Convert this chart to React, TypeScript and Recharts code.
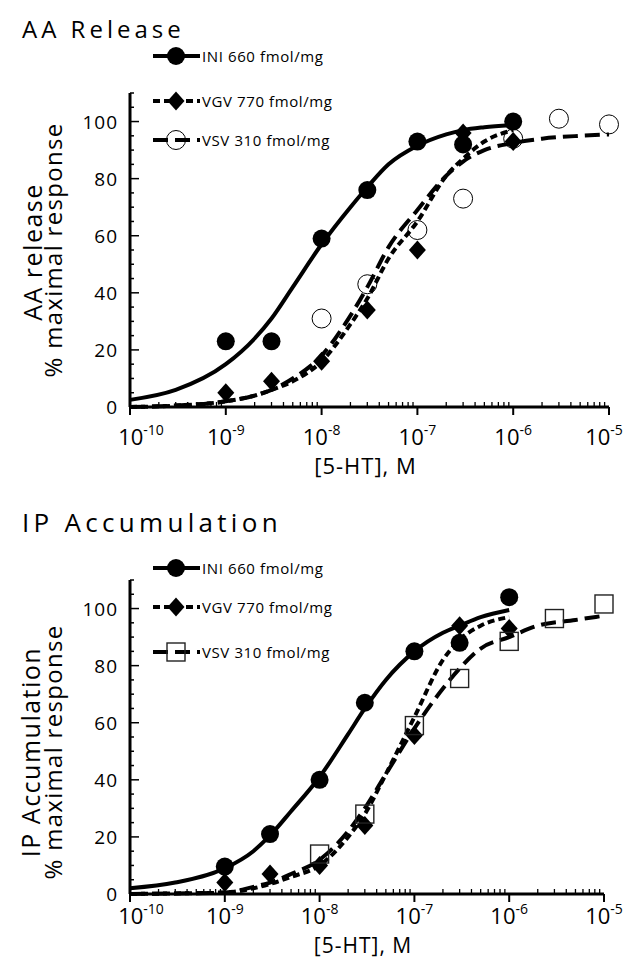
import React from "react";
import { ComposedChart, Line, Scatter, XAxis, YAxis } from "recharts";

const FONT = "'Open Sans', 'Noto Sans', sans-serif";

// [5-HT] concentrations (M)
const DOSES = [1e-9, 3e-9, 1e-8, 3e-8, 1e-7, 3e-7, 1e-6];
const DOSES_VSV = [1e-8, 3e-8, 1e-7, 3e-7, 1e-6, 3e-6, 1e-5];

// AA release, % maximal response
const AA_INI = [23, 23, 59, 76, 93, 92, 100];
const AA_VGV = [5, 9, 16, 34, 55, 96, 93];
const AA_VSV = [31, 43, 62, 73, 94, 101, 99];

// IP accumulation, % maximal response
const IP_INI = [9.6, 21, 40, 67, 85, 88, 104];
const IP_VGV = [4, 7, 10, 24, 55.5, 94, 93];
const IP_VSV = [14, 28, 59, 75.5, 88.5, 96.5, 101.6];

// fitted curves
const FIT_X = [1e-10, 3e-10, 1e-9, 2e-9, 3e-9, 5e-9, 1e-8, 2e-8, 3e-8, 5e-8, 1e-7, 2e-7, 3e-7, 5e-7, 1e-6];
const FIT_X_LONG = [1e-10, 3e-10, 1e-9, 2e-9, 3e-9, 5e-9, 1e-8, 2e-8, 3e-8, 5e-8, 1e-7, 2e-7, 3e-7, 5e-7, 1e-6, 2e-6, 5e-6, 1e-5];

const AA_INI_FIT = [2.5, 6, 15, 24, 31, 42, 57, 70, 77, 85, 91.5, 95.5, 97, 98, 98.8];
const AA_VGV_FIT = [0, 0.5, 2, 4, 6, 9, 16, 29, 38, 52, 65, 81, 87, 93, 97];
const AA_VSV_FIT = [0, 0.5, 2, 4, 6, 10, 18, 32, 42, 56, 69, 81, 86, 90, 92.5, 94, 95, 95.5];

const IP_INI_FIT = [2, 4, 9, 15, 20.5, 29, 41, 56, 65, 75, 85, 91.5, 94, 97, 99.5];
const IP_VGV_FIT = [0, 0.2, 0.5, 2, 3.5, 6, 10, 20, 28, 42, 62, 82, 89, 94, 97];
const IP_VSV_FIT = [0, 0.2, 0.5, 2.5, 4, 7, 12, 22, 30, 42, 58, 72, 79, 86, 90, 94, 96, 97.5];

const SERIES_NAMES = ["INI 660 fmol/mg", "VGV 770 fmol/mg", "VSV 310 fmol/mg"];

const X_MAJOR = [1e-10, 1e-9, 1e-8, 1e-7, 1e-6, 1e-5];
const X_TICKS: number[] = [...X_MAJOR];
X_MAJOR.slice(0, -1).forEach((d) => {
  for (let m = 2; m <= 9; m++) X_TICKS.push(d * m);
});
const Y_TICKS = Array.from({ length: 23 }, (_, i) => i * 5);

const zip = (xs: number[], ys: number[]) => xs.map((x, i) => ({ x, y: ys[i] }));

const isMajor = (v: number) => Math.abs(Math.log10(v) - Math.round(Math.log10(v))) < 1e-6;

const makeXTick = (labelDy: number) =>
  function XTick({ x, y, payload }: any) {
    const v = payload.value;
    if (!isMajor(v)) {
      return <line x1={x} x2={x} y1={y} y2={y - 5} stroke="#000" strokeWidth={1.3} />;
    }
    const exp = Math.round(Math.log10(v));
    // keep the first and last labels inside the page / clear of the "0"
    const lx = Math.min(Math.max(x, 141), 604);
    return (
      <g>
        <line x1={x} x2={x} y1={y} y2={y + 8} stroke="#000" strokeWidth={2} />
        <text x={lx} y={y + labelDy} textAnchor="middle" fontFamily={FONT} fontSize={22} fill="#000">
          10
          <tspan dy={-10} fontSize={14}>
            {`${exp}`}
          </tspan>
        </text>
      </g>
    );
  };

function YTick({ x, y, payload }: any) {
  const v = payload.value;
  const major = v % 20 === 0;
  return (
    <g>
      <line x1={x} x2={x + (major ? 9 : 4)} y1={y} y2={y} stroke="#000" strokeWidth={1.5} />
      {major && (
        <text x={x - 12} y={y} textAnchor="end" dominantBaseline="central" fontFamily={FONT} fontSize={19} letterSpacing={1} fill="#000">
          {v}
        </text>
      )}
    </g>
  );
}

const filledCircle = (p: any) => <circle cx={p.cx} cy={p.cy} r={9} fill="#000" />;
const openCircle = (p: any) => <circle cx={p.cx} cy={p.cy} r={9.5} fill="none" stroke="#000" strokeWidth={1} />;
const diamond = (p: any) => (
  <path d={`M${p.cx},${p.cy - 9.5}L${p.cx + 8.5},${p.cy}L${p.cx},${p.cy + 9.5}L${p.cx - 8.5},${p.cy}Z`} fill="#000" />
);
const square = (p: any) => (
  <rect x={p.cx - 9} y={p.cy - 9} width={18} height={18} fill="none" stroke="#222" strokeWidth={1.4} />
);

const DASHES: (string | undefined)[] = [undefined, "7 4", "15 7"];

interface PanelProps {
  top: number;
  height: number;
  right: number;
  xAxisHeight: number;
  title: string;
  titleY: number;
  titleSize: number;
  titleSpacing: number;
  legendY: number[];
  yLabel: string;
  yLabelX: number;
  yLabelC: [number, number];
  tickDy: number;
  xLabelY: number;
  xLabelSize: number;
  points: number[][];
  fits: number[][];
  vsvShape: (p: any) => React.ReactElement;
}

function Panel(props: PanelProps) {
  const { top, height, right, xAxisHeight, points, fits } = props;
  const pointX = [DOSES, DOSES, DOSES_VSV];
  const fitX = [FIT_X, FIT_X, FIT_X_LONG];
  const shapes = [filledCircle, diamond, props.vsvShape];
  const plotLeft = 130;
  const plotRight = 626 - right;
  const XTick = makeXTick(props.tickDy);

  return (
    <div style={{ position: "absolute", left: 0, top, width: 626, height }}>
      <ComposedChart width={626} height={height} margin={{ top: 93, right, bottom: 0, left: 0 }}>
        <XAxis
          type="number"
          dataKey="x"
          scale="log"
          domain={[1e-10, 1e-5]}
          ticks={X_TICKS}
          interval={0}
          tick={<XTick />}
          tickLine={false}
          tickSize={0}
          tickMargin={0}
          height={xAxisHeight}
          axisLine={{ stroke: "#000", strokeWidth: 3 }}
        />
        <YAxis
          type="number"
          dataKey="y"
          domain={[0, 110]}
          ticks={Y_TICKS}
          interval={0}
          tick={<YTick />}
          tickLine={false}
          tickSize={0}
          tickMargin={0}
          width={130}
          axisLine={{ stroke: "#000", strokeWidth: 3 }}
        />
        {fits.map((ys, i) => (
          <Line
            key={`fit-${i}`}
            data={zip(fitX[i], ys)}
            dataKey="y"
            type="monotone"
            stroke="#000"
            strokeWidth={4}
            strokeDasharray={DASHES[i]}
            dot={false}
            activeDot={false}
            isAnimationActive={false}
          />
        ))}
        {points.map((ys, i) => (
          <Scatter
            key={`pts-${i}`}
            data={zip(pointX[i], ys)}
            dataKey="y"
            shape={shapes[i]}
            isAnimationActive={false}
          />
        ))}
      </ComposedChart>
      <svg width={626} height={height} style={{ position: "absolute", left: 0, top: 0, pointerEvents: "none" }}>
        <text
          x={22}
          y={props.titleY}
          fontFamily={FONT}
          fontSize={props.titleSize}
          letterSpacing={props.titleSpacing}
          fill="#000"
        >
          {props.title}
        </text>
        {SERIES_NAMES.map((name, i) => {
          const y = props.legendY[i];
          return (
            <g key={name}>
              <line x1={153} x2={200} y1={y} y2={y} stroke="#000" strokeWidth={4} strokeDasharray={DASHES[i]} />
              {shapes[i]({ cx: 176, cy: y })}
              <text x={202} y={y} dominantBaseline="central" fontFamily={FONT} fontSize={15} letterSpacing={0.6} fill="#000">
                {name}
              </text>
            </g>
          );
        })}
        <text
          transform={`translate(${props.yLabelX}, ${props.yLabelC[0]}) rotate(-90)`}
          textAnchor="middle"
          fontFamily={FONT}
          fontSize={25}
          letterSpacing={1.5}
          fill="#000"
        >
          {props.yLabel}
        </text>
        <text
          transform={`translate(62, ${props.yLabelC[1]}) rotate(-90)`}
          textAnchor="middle"
          fontFamily={FONT}
          fontSize={24}
          letterSpacing={1.3}
          fill="#000"
        >
          % maximal response
        </text>
        <text
          x={(plotLeft + plotRight) / 2 - 4}
          y={props.xLabelY}
          textAnchor="middle"
          fontFamily={FONT}
          fontSize={props.xLabelSize}
          letterSpacing={1}
          fill="#000"
        >
          [5-HT], M
        </text>
      </svg>
    </div>
  );
}

export default function App() {
  return (
    <div style={{ position: "absolute", left: 0, top: 0, width: 626, height: 958, background: "#fff", overflow: "hidden" }}>
      <Panel
        top={0}
        height={480}
        right={17}
        xAxisHeight={73}
        title="AA Release"
        titleY={38}
        titleSize={24}
        titleSpacing={4}
        legendY={[56, 101, 140]}
        yLabel="AA release"
        yLabelX={42}
        yLabelC={[252, 250]}
        tickDy={38}
        xLabelY={474}
        xLabelSize={22}
        points={[AA_INI, AA_VGV, AA_VSV]}
        fits={[AA_INI_FIT, AA_VGV_FIT, AA_VSV_FIT]}
        vsvShape={openCircle}
      />
      <Panel
        top={487}
        height={471}
        right={22}
        xAxisHeight={64}
        title="IP Accumulation"
        titleY={45}
        titleSize={26}
        titleSpacing={4.3}
        legendY={[81, 120, 165]}
        yLabel="IP Accumulation"
        yLabelX={40}
        yLabelC={[265, 265]}
        tickDy={30}
        xLabelY={466}
        xLabelSize={21}
        points={[IP_INI, IP_VGV, IP_VSV]}
        fits={[IP_INI_FIT, IP_VGV_FIT, IP_VSV_FIT]}
        vsvShape={square}
      />
    </div>
  );
}
